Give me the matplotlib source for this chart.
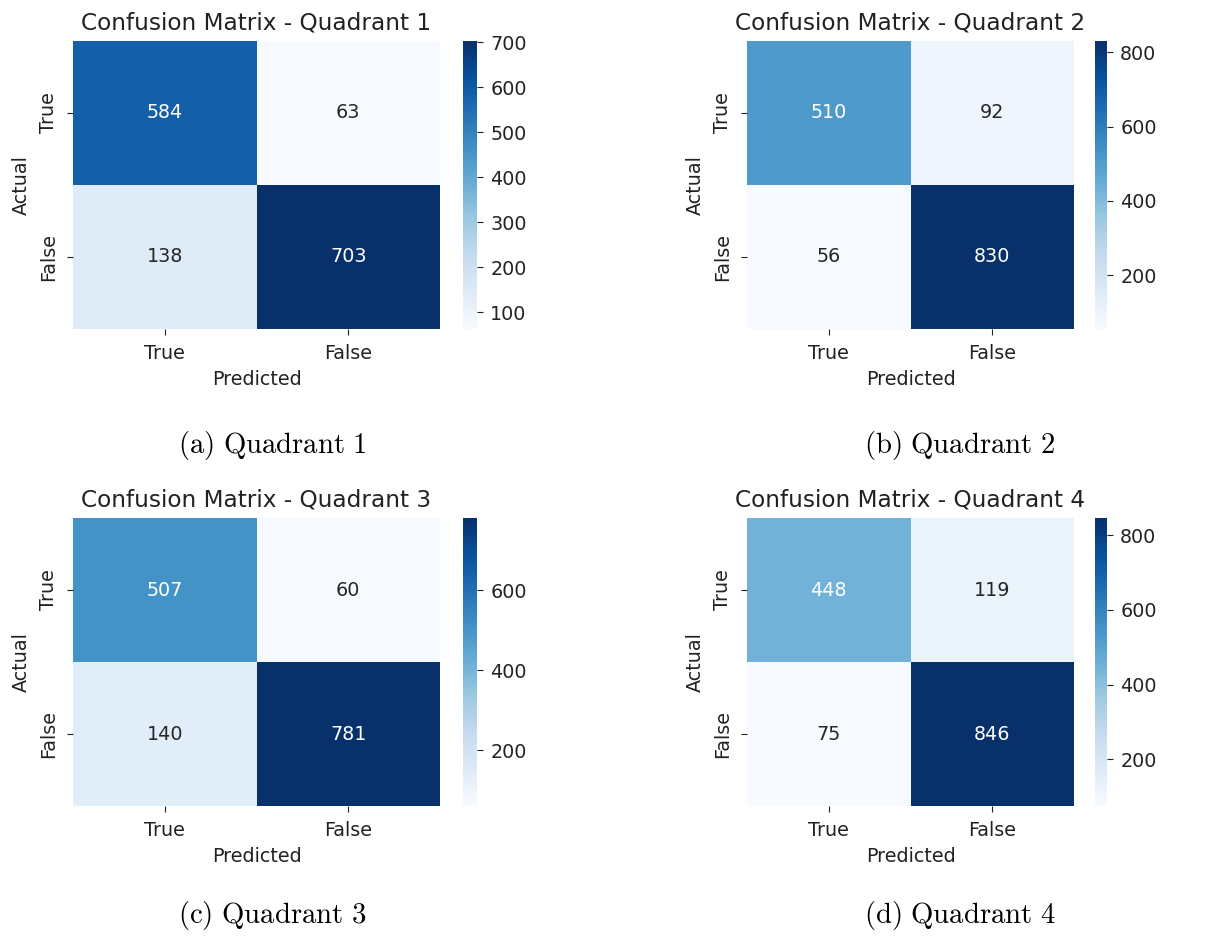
import matplotlib
matplotlib.use("Agg")
from matplotlib import pyplot as plt
import seaborn as sns
import numpy as np

# Confusion matrix counts per quadrant: rows = actual, cols = predicted
labels = ["True", "False"]
quadrant_1 = [[584, 63], [138, 703]]
quadrant_2 = [[510, 92], [56, 830]]
quadrant_3 = [[507, 60], [140, 781]]
quadrant_4 = [[448, 119], [75, 846]]
captions = ["(a) Quadrant 1", "(b) Quadrant 2", "(c) Quadrant 3", "(d) Quadrant 4"]

plt.rcParams["mathtext.fontset"] = "cm"

W, H = 1226, 938
fig = plt.figure(figsize=(W / 100, H / 100), dpi=100)


def px_axes(x0, y0, x1, y1):
    # pixel box (top-left origin) -> figure axes
    return fig.add_axes([x0 / W, 1 - y1 / H, (x1 - x0) / W, (y1 - y0) / H])


#-------------------
# panel layout: heatmap box, colorbar box, caption centre
panels = [
    (quadrant_1, (73, 41, 440, 329), (463, 41, 477, 329), (272, 445)),
    (quadrant_2, (747, 41, 1074, 329), (1095, 41, 1107, 329), (960, 445)),
    (quadrant_3, (73, 518, 440, 806), (463, 518, 477, 806), (272, 915)),
    (quadrant_4, (747, 518, 1074, 806), (1095, 518, 1107, 806), (960, 915)),
]

for i, (cm, hbox, cbox, cap) in enumerate(panels):
    ax = px_axes(*hbox)
    cax = px_axes(*cbox)
    sns.heatmap(np.array(cm), annot=True, fmt="d", cmap="Blues",
                xticklabels=labels, yticklabels=labels,
                ax=ax, cbar_ax=cax, annot_kws={"fontsize": 13.8})
    ax.set_title(f"Confusion Matrix - Quadrant {i + 1}", fontsize=16.7,
                 color="#222222", pad=8)
    ax.set_xlabel("Predicted", fontsize=13.8, color="#222222", labelpad=5)
    ax.set_ylabel("Actual", fontsize=13.8, color="#222222", labelpad=6)
    ax.tick_params(labelsize=13.8, length=4.5, pad=6, colors="#222222")
    cax.tick_params(labelsize=13.8, length=4.5, pad=5, colors="#222222")

    # sub-figure caption
    cap_text = captions[i].replace(" ", r"\ ")
    fig.text(cap[0] / W, 1 - cap[1] / H, r"$\mathrm{" + cap_text + "}$",
             ha="center", va="center", fontsize=20.7, color="black")

fig.savefig("out.png", dpi=100)
